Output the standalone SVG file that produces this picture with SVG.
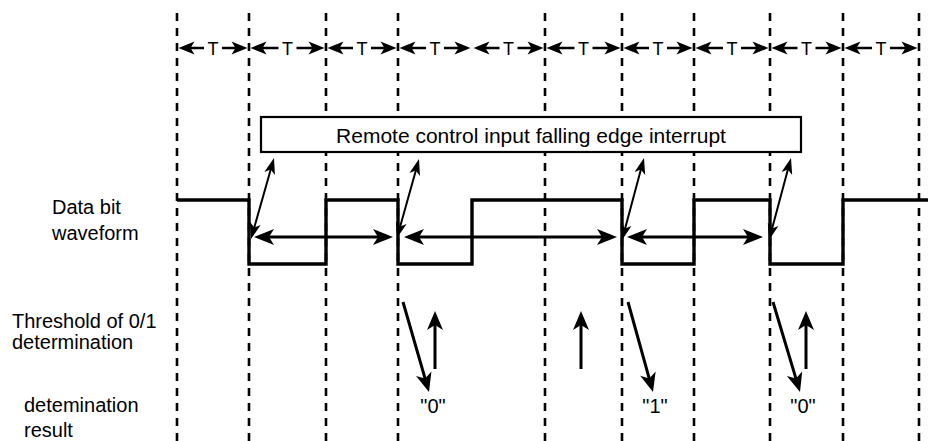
<svg xmlns="http://www.w3.org/2000/svg" width="928" height="441" viewBox="0 0 928 441">
<style>
text{font-family:"Liberation Sans",Arial,sans-serif;fill:#000}
.lbl{font-size:20px}
.t{font-size:18px;text-anchor:middle}
.res{font-size:20px;text-anchor:middle}
.grid{stroke:#000;stroke-width:2.6;stroke-dasharray:8 7;fill:none}
.wave{stroke:#000;stroke-width:3.4;fill:none}
.tl{stroke:#000;stroke-width:2.6;fill:none}
.wl{stroke:#000;stroke-width:3;fill:none}
.dl{stroke:#000;stroke-width:2;fill:none}
.vl{stroke:#000;stroke-width:3;fill:none}
.hd{fill:#000;stroke:none}
</style>
<defs>
<path id="hT" class="hd" d="M0,0 L-16,-6.5 L-12,0 L-16,6.5 z"/>
<path id="hW" class="hd" d="M0,0 L-20,-8 L-15,0 L-20,8 z"/>
<path id="hD" class="hd" d="M0,0 L-16,-5.5 L-12,0 L-16,5.5 z"/>
<path id="hV" class="hd" d="M0,0 L-19,-8 L-14,0 L-19,8 z"/>
</defs>
<rect width="928" height="441" fill="#fff"/>
<g id="gridlines">
<line class="grid" x1="177" y1="13" x2="177" y2="441"/>
<line class="grid" x1="249" y1="13" x2="249" y2="441"/>
<line class="grid" x1="326" y1="13" x2="326" y2="441"/>
<line class="grid" x1="398" y1="13" x2="398" y2="441"/>
<line class="grid" x1="545" y1="13" x2="545" y2="441"/>
<line class="grid" x1="622" y1="13" x2="622" y2="441"/>
<line class="grid" x1="694" y1="13" x2="694" y2="441"/>
<line class="grid" x1="770" y1="13" x2="770" y2="441"/>
<line class="grid" x1="843" y1="13" x2="843" y2="441"/>
<line class="grid" x1="919" y1="13" x2="919" y2="441"/>
</g>
<g id="period-marks">
<path class="tl" d="M190,48 H204 M222,48 H236 M262,48 H278.5 M296.5,48 H313 M339,48 H353 M371,48 H385 M411,48 H426 M444,48 H459 M485,48 H499.5 M517.5,48 H532 M558,48 H574.5 M592.5,48 H609 M635,48 H649 M667,48 H681 M707,48 H723 M741,48 H757 M783,48 H797.5 M815.5,48 H830 M856,48 H872 M890,48 H906"/>
<use href="#hT" transform="translate(178.5,48) rotate(180)"/><use href="#hT" transform="translate(247.5,48)"/>
<use href="#hT" transform="translate(250.5,48) rotate(180)"/><use href="#hT" transform="translate(324.5,48)"/>
<use href="#hT" transform="translate(327.5,48) rotate(180)"/><use href="#hT" transform="translate(396.5,48)"/>
<use href="#hT" transform="translate(399.5,48) rotate(180)"/><use href="#hT" transform="translate(470.5,48)"/>
<use href="#hT" transform="translate(473.5,48) rotate(180)"/><use href="#hT" transform="translate(543.5,48)"/>
<use href="#hT" transform="translate(546.5,48) rotate(180)"/><use href="#hT" transform="translate(620.5,48)"/>
<use href="#hT" transform="translate(623.5,48) rotate(180)"/><use href="#hT" transform="translate(692.5,48)"/>
<use href="#hT" transform="translate(695.5,48) rotate(180)"/><use href="#hT" transform="translate(768.5,48)"/>
<use href="#hT" transform="translate(771.5,48) rotate(180)"/><use href="#hT" transform="translate(841.5,48)"/>
<use href="#hT" transform="translate(844.5,48) rotate(180)"/><use href="#hT" transform="translate(917.5,48)"/>
<text class="t" x="213" y="55">T</text>
<text class="t" x="287.5" y="55">T</text>
<text class="t" x="362" y="55">T</text>
<text class="t" x="435" y="55">T</text>
<text class="t" x="508.5" y="55">T</text>
<text class="t" x="583.5" y="55">T</text>
<text class="t" x="658" y="55">T</text>
<text class="t" x="732" y="55">T</text>
<text class="t" x="806.5" y="55">T</text>
<text class="t" x="881" y="55">T</text>
</g>
<g id="interrupt-box">
<rect x="261" y="117" width="540" height="35" fill="#fff" stroke="#000" stroke-width="2.2"/>
<text x="531" y="143" font-size="21" text-anchor="middle">Remote control input falling edge interrupt</text>
</g>
<g id="labels">
<text class="lbl" x="52" y="214">Data bit</text>
<text class="lbl" x="52" y="240">waveform</text>
<text class="lbl" x="12" y="328">Threshold of 0/1</text>
<text class="lbl" x="12" y="349">determination</text>
<text class="lbl" x="24" y="412">detemination</text>
<text class="lbl" x="24" y="437">result</text>
</g>
<g id="waveform">
<path class="wave" d="M177,200 H249 V264 H326 V200 H398 V264 H472 V200 H622 V264 H694 V200 H770 V264 H843 V200 H928"/>
</g>
<g id="connectors">
<path class="wl" d="M264,237 H383 M414,237 H607 M637,237 H753"/>
<use href="#hW" transform="translate(254,237) rotate(180)"/><use href="#hW" transform="translate(393,237)"/>
<use href="#hW" transform="translate(404,237) rotate(180)"/><use href="#hW" transform="translate(617,237)"/>
<use href="#hW" transform="translate(627,237) rotate(180)"/><use href="#hW" transform="translate(763,237)"/>
<path class="dl" d="M271.8,165.7 L253.2,231.3 M416.9,166.7 L399.1,230.3 M641.9,165.7 L624.1,232.3 M788.9,165.7 L771.1,232.3"/>
<use href="#hD" transform="translate(274,158) rotate(-74.1)"/><use href="#hD" transform="translate(251,239) rotate(105.9)"/>
<use href="#hD" transform="translate(419,159) rotate(-74.4)"/><use href="#hD" transform="translate(397,238) rotate(105.6)"/>
<use href="#hD" transform="translate(644,158) rotate(-75)"/><use href="#hD" transform="translate(622,240) rotate(105)"/>
<use href="#hD" transform="translate(791,158) rotate(-75)"/><use href="#hD" transform="translate(769,240) rotate(105)"/>
<path class="vl" d="M403,302 L426.2,382.4 M435,369 V321 M581,369 V321 M628,302 L650.3,382.4 M773,302 L797.1,382.4 M806,369 V321"/>
<use href="#hV" transform="translate(429,392) rotate(73.9)"/>
<use href="#hV" transform="translate(435,311) rotate(-90)"/>
<use href="#hV" transform="translate(581,311) rotate(-90)"/>
<use href="#hV" transform="translate(653,392) rotate(74.5)"/>
<use href="#hV" transform="translate(800,392) rotate(73.3)"/>
<use href="#hV" transform="translate(806,311) rotate(-90)"/>
</g>
<g id="results">
<text class="res" x="433" y="413">"0"</text>
<text class="res" x="655" y="413">"1"</text>
<text class="res" x="803" y="413">"0"</text>
</g>
</svg>
